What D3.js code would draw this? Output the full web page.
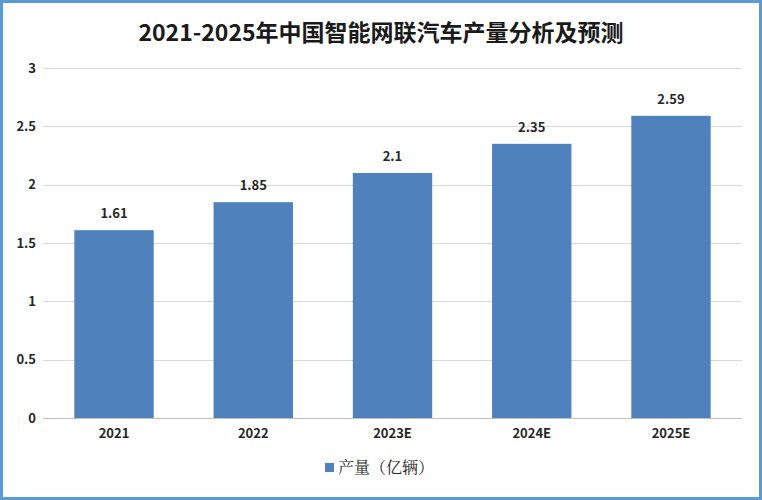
<!DOCTYPE html>
<html>
<head>
<meta charset="utf-8">
<script src="https://cdn.jsdelivr.net/npm/d3@7"></script>
<style>
  body { margin: 0; background: #fff; }
  svg { display: block; }
</style>
</head>
<body>
<svg id="chart" width="762" height="500"></svg>
<script>
  // Chart data
  var CATEGORIES = ["2021", "2022", "2023E", "2024E", "2025E"];
  var OUTPUT = [1.61, 1.85, 2.1, 2.35, 2.59];
  var Y_TICKS = [0, 0.5, 1, 1.5, 2, 2.5, 3];
  var TITLE = "2021-2025年中国智能网联汽车产量分析及预测";
  var SERIES_NAME = "产量（亿辆）";

  var W = 762, H = 500;
  var BAR_COLOR = "#4f81bd";
  var FONT = "'Noto Sans CJK SC', 'Noto Sans', sans-serif";

  // plot area (pixels)
  var PLOT_L = 43, PLOT_R = 742, PLOT_T = 68, PLOT_B = 418;

  var svg = d3.select("#chart");

  // frame
  svg.append("rect")
    .attr("x", 1.5).attr("y", 1.5)
    .attr("width", W - 3).attr("height", H - 3)
    .attr("fill", "#fff")
    .attr("stroke", "#5b9bd5")
    .attr("stroke-width", 3);

  var x = d3.scaleBand()
    .domain(CATEGORIES)
    .range([PLOT_L, PLOT_R])
    .paddingInner(0.43)
    .paddingOuter(0.225);

  var y = d3.scaleLinear()
    .domain([0, 3])
    .range([PLOT_B, PLOT_T]);

  // gridlines
  svg.append("g")
    .selectAll("line")
    .data(Y_TICKS)
    .enter().append("line")
      .attr("x1", PLOT_L).attr("x2", PLOT_R)
      .attr("y1", d => Math.round(y(d)) + 0.5).attr("y2", d => Math.round(y(d)) + 0.5)
      .attr("stroke", d => d === 0 ? "#bfbfbf" : "#d9d9d9")
      .attr("stroke-width", 1);

  // y axis labels
  var yAxis = d3.axisLeft(y).tickValues(Y_TICKS).tickSize(0).tickPadding(0)
    .tickFormat(d => String(d));
  svg.append("g")
    .attr("transform", "translate(36,0)")
    .call(yAxis)
    .call(g => g.select(".domain").remove())
    .selectAll("text")
      .attr("font-family", FONT)
      .attr("font-weight", "bold")
      .attr("font-size", 13)
      .attr("fill", "#262626");

  // bars
  svg.append("g")
    .selectAll("rect")
    .data(OUTPUT)
    .enter().append("rect")
      .attr("x", (d, i) => x(CATEGORIES[i]))
      .attr("y", d => y(d))
      .attr("width", x.bandwidth())
      .attr("height", d => PLOT_B - y(d))
      .attr("fill", BAR_COLOR);

  // value labels
  svg.append("g")
    .selectAll("text")
    .data(OUTPUT)
    .enter().append("text")
      .attr("x", (d, i) => x(CATEGORIES[i]) + x.bandwidth() / 2)
      .attr("y", d => y(d) - 12)
      .attr("text-anchor", "middle")
      .attr("font-family", FONT)
      .attr("font-weight", "bold")
      .attr("font-size", 13)
      .attr("fill", "#262626")
      .text(d => d);

  // x axis labels
  var xAxis = d3.axisBottom(x).tickSize(0).tickPadding(0);
  svg.append("g")
    .attr("transform", "translate(0," + (PLOT_B + 11) + ")")
    .call(xAxis)
    .call(g => g.select(".domain").remove())
    .selectAll("text")
      .attr("font-family", FONT)
      .attr("font-weight", "bold")
      .attr("font-size", 13)
      .attr("fill", "#262626");

  // title
  svg.append("text")
    .attr("x", W / 2)
    .attr("y", 41)
    .attr("text-anchor", "middle")
    .attr("font-family", FONT)
    .attr("font-weight", "bold")
    .attr("font-size", 23)
    .attr("fill", "#1a1a1a")
    .text(TITLE);

  // legend
  var legend = svg.append("g").attr("transform", "translate(325,472)");
  legend.append("rect")
    .attr("x", 0).attr("y", -9)
    .attr("width", 9).attr("height", 9)
    .attr("fill", BAR_COLOR);
  legend.append("text")
    .attr("x", 13).attr("y", 1)
    .attr("font-family", "'Noto Serif CJK SC', 'Noto Sans CJK SC', serif")
    .attr("font-size", 16)
    .attr("fill", "#262626")
    .text(SERIES_NAME);
</script>
</body>
</html>
